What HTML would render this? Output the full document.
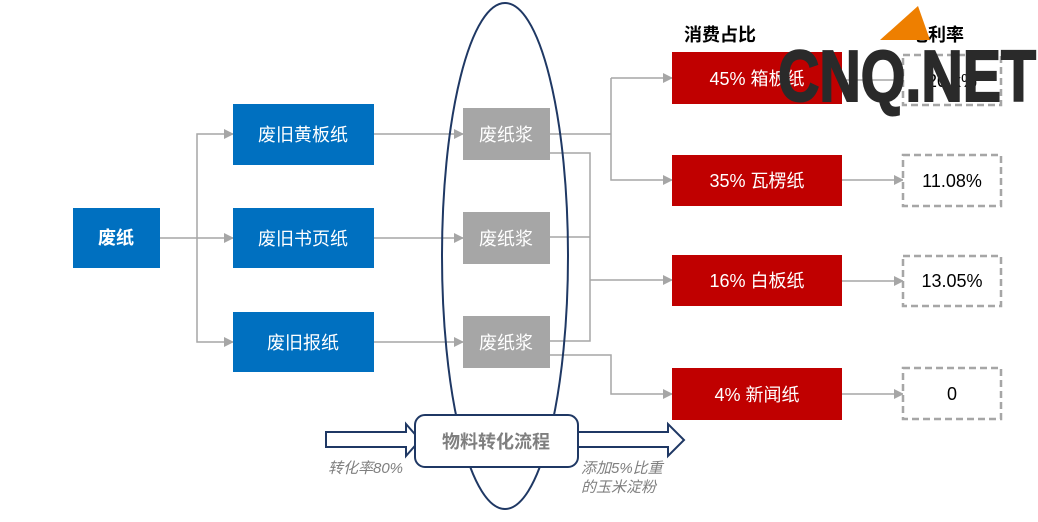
<!DOCTYPE html>
<html><head><meta charset="utf-8"><style>
html,body{margin:0;padding:0;background:#fff;}
svg{display:block;font-family:"Liberation Sans","Noto Sans CJK SC",sans-serif;}
</style></head><body>
<svg width="1038" height="522" viewBox="0 0 1038 522" xmlns="http://www.w3.org/2000/svg">
<defs>
<marker id="a" markerWidth="10" markerHeight="10" refX="9" refY="5" orient="auto" markerUnits="userSpaceOnUse"><path d="M0,0 L10,5 L0,10 z" fill="#a6a6a6"/></marker>
</defs>
<g stroke="#a6a6a6" stroke-width="1.5" fill="none">
<path d="M160,238 H233" marker-end="url(#a)"/>
<path d="M197,238 V134 H233" marker-end="url(#a)"/>
<path d="M197,238 V342 H233" marker-end="url(#a)"/>
<path d="M374,134 H463" marker-end="url(#a)"/>
<path d="M374,238 H463" marker-end="url(#a)"/>
<path d="M374,342 H463" marker-end="url(#a)"/>
<path d="M550,134 H611"/>
<path d="M611,78 H672" marker-end="url(#a)"/>
<path d="M611,78 V180 H672" marker-end="url(#a)"/>
<path d="M550,153 H590 V341 H550"/>
<path d="M550,237 H590"/>
<path d="M590,280 H672" marker-end="url(#a)"/>
<path d="M550,355 H611 V394 H672" marker-end="url(#a)"/>
<path d="M842,180 H903" marker-end="url(#a)"/>
<path d="M842,281 H903" marker-end="url(#a)"/>
<path d="M842,394 H903" marker-end="url(#a)"/>
<path d="M842,80 H903" marker-end="url(#a)"/>
</g>
<g fill="#0070c0">
<rect x="73" y="208" width="87" height="60"/>
<rect x="233" y="104" width="141" height="61"/>
<rect x="233" y="208" width="141" height="60"/>
<rect x="233" y="312" width="141" height="60"/>
</g>
<g fill="#fff" font-size="18" text-anchor="middle">
<text x="116" y="244" font-weight="bold">废纸</text>
<text x="303" y="141">废旧黄板纸</text>
<text x="303" y="245">废旧书页纸</text>
<text x="303" y="349">废旧报纸</text>
</g>
<g fill="#a6a6a6">
<rect x="463" y="108" width="87" height="52"/>
<rect x="463" y="212" width="87" height="52"/>
<rect x="463" y="316" width="87" height="52"/>
</g>
<g fill="#fff" font-size="18" text-anchor="middle">
<text x="506" y="141">废纸浆</text>
<text x="506" y="245">废纸浆</text>
<text x="506" y="349">废纸浆</text>
</g>
<ellipse cx="505" cy="256" rx="63" ry="253" fill="none" stroke="#1f3864" stroke-width="2"/>
<g fill="#c00000">
<rect x="672" y="52" width="170" height="52"/>
<rect x="672" y="155" width="170" height="51"/>
<rect x="672" y="255" width="170" height="51"/>
<rect x="672" y="368" width="170" height="52"/>
</g>
<g fill="#fff" font-size="18" text-anchor="middle">
<text x="757" y="85">45%  箱板纸</text>
<text x="757" y="187">35%  瓦楞纸</text>
<text x="757" y="287">16%  白板纸</text>
<text x="757" y="401">4%  新闻纸</text>
</g>
<g fill="#fff" stroke="#a6a6a6" stroke-width="2.5" stroke-dasharray="7,4">
<rect x="903" y="55" width="98" height="50"/>
<rect x="903" y="155" width="98" height="51"/>
<rect x="903" y="256" width="98" height="50"/>
<rect x="903" y="368" width="98" height="51"/>
</g>
<g fill="#000" font-size="18" text-anchor="middle">
<text x="952" y="87">20.x%</text>
<text x="952" y="187">11.08%</text>
<text x="952" y="287">13.05%</text>
<text x="952" y="400">0</text>
</g>
<text x="684" y="41" font-size="18" font-weight="bold">消费占比</text>
<text x="910" y="41" font-size="18" font-weight="bold">毛利率</text>
<path d="M880,40 L918,6 L930,40 Z" fill="#ee7f00"/>
<text x="778" y="101" font-size="72" font-weight="bold" fill="#2a2a2a" stroke="#2a2a2a" stroke-width="2" textLength="258" lengthAdjust="spacingAndGlyphs">CNQ.NET</text>
<g fill="#fff" stroke="#1f3864" stroke-width="2">
<path d="M326,432 H406 V424 L420,440 L406,456 V447 H326 Z"/>
<path d="M578,432 H668 V424 L684,440 L668,456 V447 H578 Z"/>
<rect x="415" y="415" width="163" height="52" rx="10"/>
</g>
<text x="496" y="448" font-size="18" font-weight="bold" fill="#7f7f7f" text-anchor="middle">物料转化流程</text>
<g fill="#7f7f7f" font-size="15" font-style="italic">
<text x="328" y="473">转化率80%</text>
<text x="581" y="473">添加5%比重</text>
<text x="581" y="492">的玉米淀粉</text>
</g>
</svg>
</body></html>
